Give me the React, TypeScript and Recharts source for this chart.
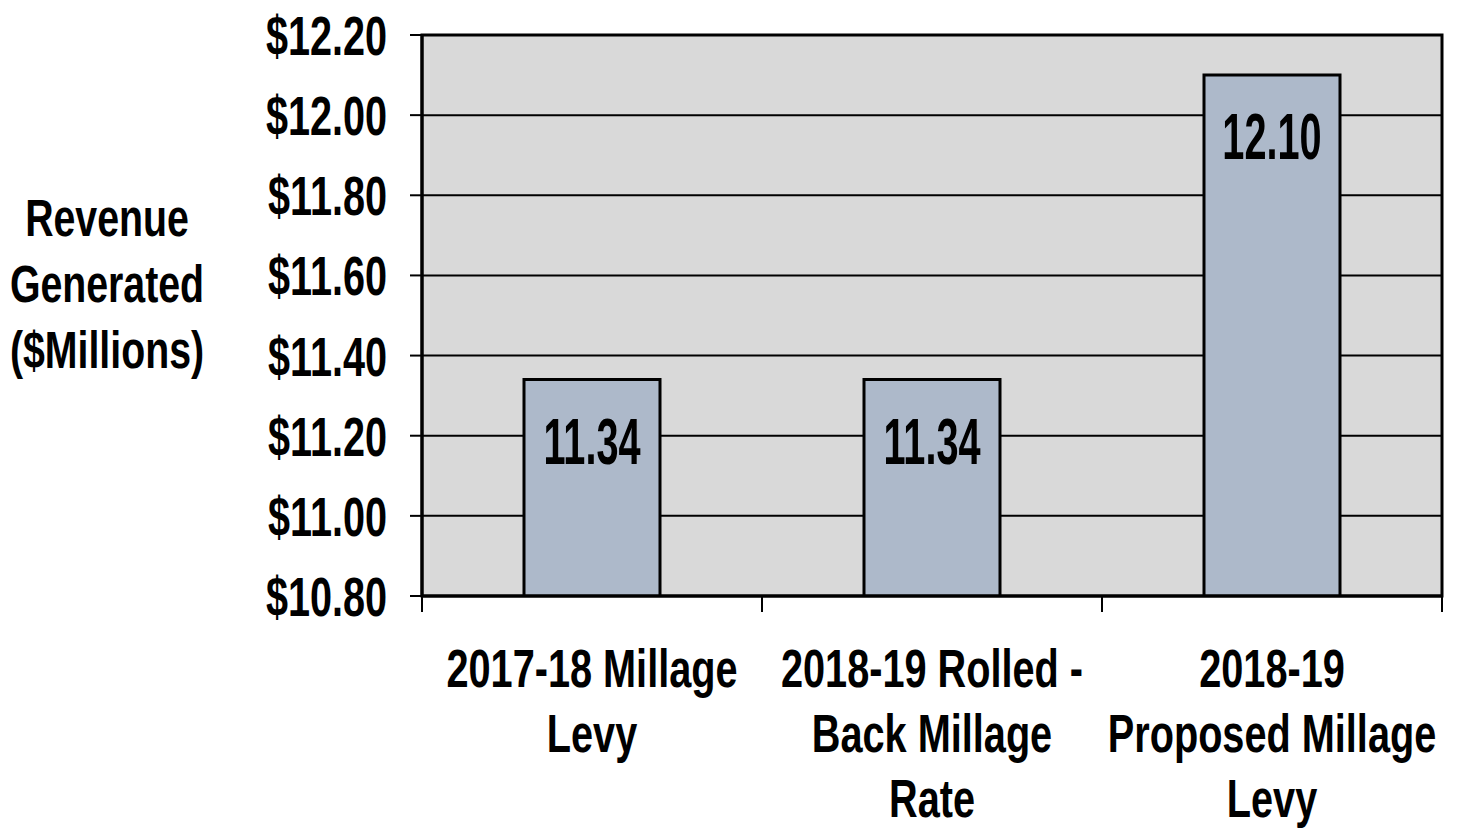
import { Bar, BarChart, CartesianGrid, LabelList, ReferenceArea, XAxis, YAxis } from "recharts";

const categories = [
  ["2017-18 Millage", "Levy"],
  ["2018-19 Rolled -", "Back Millage", "Rate"],
  ["2018-19", "Proposed Millage", "Levy"],
];
const revenue = [11.34, 11.34, 12.1];
const yTicks = [10.8, 11.0, 11.2, 11.4, 11.6, 11.8, 12.0, 12.2];
const yTitle = ["Revenue", "Generated", "($Millions)"];

const data = categories.map((lines, i) => ({ name: lines.join(" "), lines, value: revenue[i] }));

const FONT = "'Liberation Sans', Arial, sans-serif";
const W = 1459;
const H = 829;
const LEFT = 422;
const RIGHT = 17;
const BAND = (W - LEFT - RIGHT) / categories.length;

// narrow bold text: Arial-like glyphs squeezed horizontally
function NarrowText({ x, y, size, sx, anchor = "middle", children }: any) {
  return (
    <text
      transform={`translate(${x},${y}) scale(${sx},1)`}
      textAnchor={anchor}
      fontFamily={FONT}
      fontWeight="bold"
      fontSize={size}
      fill="#000"
    >
      {children}
    </text>
  );
}

function XTick(props: any) {
  const { x, y, payload, index } = props;
  const lines: string[] = data[index]?.lines ?? [payload.value];
  const top = y - 8;
  return (
    <g>
      <line x1={x - BAND / 2} x2={x - BAND / 2} y1={top} y2={top + 16} stroke="#000" strokeWidth={2} />
      {index === data.length - 1 && (
        <line x1={x + BAND / 2} x2={x + BAND / 2} y1={top} y2={top + 16} stroke="#000" strokeWidth={2} />
      )}
      {lines.map((l, i) => (
        <NarrowText key={i} x={x} y={top + 91 + i * 65} size={54} sx={0.735}>
          {l}
        </NarrowText>
      ))}
    </g>
  );
}

function YTick(props: any) {
  const { x, y, payload } = props;
  return (
    <NarrowText x={x - 21} y={y + 20} size={55} sx={0.72} anchor="end">
      ${payload.value.toFixed(2)}
    </NarrowText>
  );
}

function ValueLabel(props: any) {
  const { x, y, width, value } = props;
  return (
    <NarrowText x={x + width / 2} y={y + 84} size={64} sx={0.62}>
      {value.toFixed(2)}
    </NarrowText>
  );
}

function YTitle() {
  return (
    <g>
      {yTitle.map((l, i) => (
        <NarrowText key={i} x={107} y={236 + i * 66} size={51} sx={0.77}>
          {l}
        </NarrowText>
      ))}
    </g>
  );
}

export default function App() {
  return (
    <div style={{ position: "absolute", left: 0, top: 0, background: "#fff" }}>
      <BarChart
        width={W}
        height={H}
        data={data}
        margin={{ top: 35, right: RIGHT, bottom: 0, left: 0 }}
        barCategoryGap="30%"
      >
        <CartesianGrid vertical={false} stroke="#000" strokeWidth={2} fill="#d9d9d9" fillOpacity={1} />
        <XAxis
          dataKey="name"
          height={233}
          axisLine={{ stroke: "#000", strokeWidth: 3 }}
          tickLine={false}
          tick={<XTick />}
          interval={0}
        />
        <YAxis
          width={LEFT}
          domain={[10.8, 12.2]}
          ticks={yTicks}
          allowDataOverflow
          axisLine={{ stroke: "#000", strokeWidth: 3 }}
          tickLine={{ stroke: "#000", strokeWidth: 2 }}
          tickSize={12}
          tick={<YTick />}
          label={<YTitle />}
        />
        <ReferenceArea y1={10.8} y2={12.2} fill="none" stroke="#000" strokeWidth={3} />
        <Bar dataKey="value" fill="#adb9ca" stroke="#000" strokeWidth={3} isAnimationActive={false}>
          <LabelList dataKey="value" content={<ValueLabel />} />
        </Bar>
      </BarChart>
    </div>
  );
}
